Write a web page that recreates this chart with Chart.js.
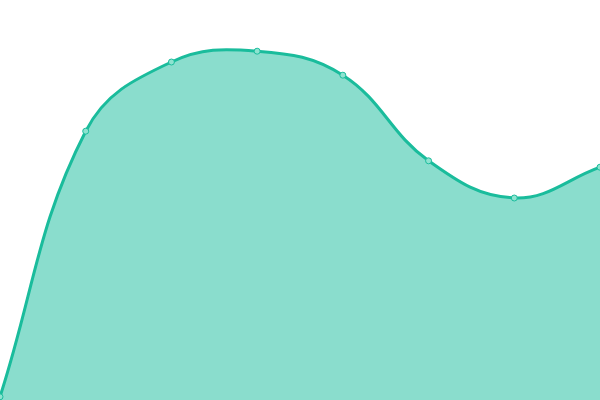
<!DOCTYPE html>
<html><head><meta charset="utf-8">
<script src="https://cdn.jsdelivr.net/npm/chart.js@4"></script>
<style>html,body{margin:0;padding:0;background:#fff}#wrap{width:600px;height:400px}</style>
</head><body><div id="wrap"><canvas id="c"></canvas></div>
<script>
const labels = ["1","2","3","4","5","6","7","8"];
const values = [0.8, 67.2, 84.5, 87.2, 81.2, 59.8, 50.5, 58.2];
new Chart(document.getElementById('c'), {
  type: 'line',
  data: { labels: labels, datasets: [{
    data: values,
    borderColor: '#1abc9c',
    backgroundColor: 'rgba(26,188,156,0.51)',
    pointBackgroundColor: '#8ee3d0',
    pointBorderColor: '#1abc9c',
    pointRadius: 3,
    pointBorderWidth: 1,
    borderWidth: 3,
    tension: 0.4,
    fill: 'start'
  }]},
  options: {
    responsive: true, maintainAspectRatio: false, animation: false,
    layout: { padding: 0, autoPadding: false },
    plugins: { legend: { display: false }, tooltip: { enabled: false } },
    scales: {
      x: { display: false, offset: false },
      y: { display: false, min: 0, max: 100 }
    }
  }
});
</script></body></html>
